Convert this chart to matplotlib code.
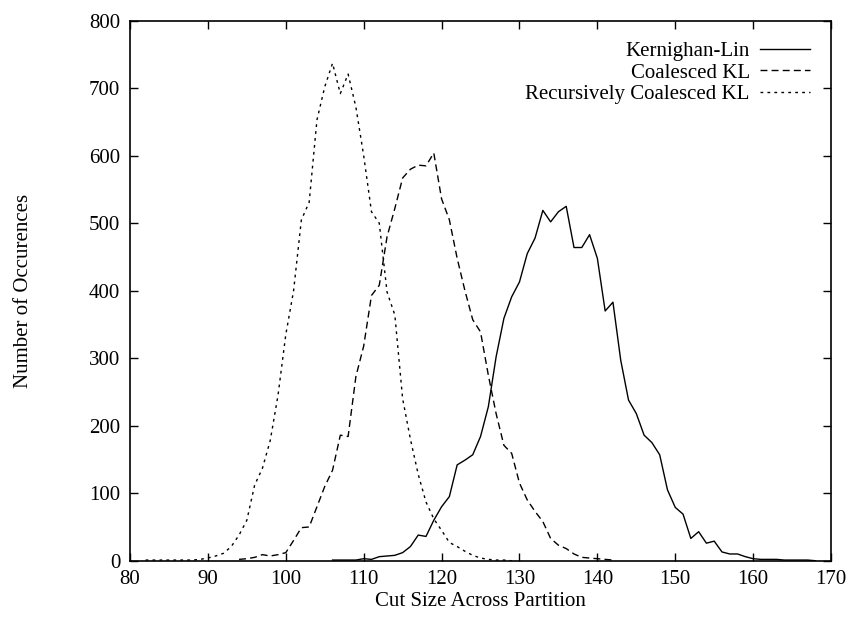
import numpy as np
import matplotlib.pyplot as plt

plt.rcParams['font.family'] = ['Liberation Serif', 'DejaVu Serif']

# Kernighan-Lin
kl_x = list(range(106, 169))
kl_y = [1, 1, 1, 1, 3, 2, 6, 7, 8, 12, 21, 38, 36, 60, 80, 95, 142, 149, 157, 184,
        228, 302, 359, 391, 413, 455, 478, 519, 502, 517, 525, 464, 464, 483, 448,
        370, 383, 297, 238, 218, 186, 175, 157, 105, 79, 69, 33, 43, 26, 29, 13, 10,
        10, 6, 3, 2, 2, 2, 1, 1, 1, 1, 0]

# Coalesced KL
ckl_x = list(range(94, 143))
ckl_y = [2, 3, 5, 9, 7, 9, 12, 30, 49, 50, 80, 110, 134, 186, 184, 273, 318, 393,
         408, 480, 522, 567, 580, 586, 585, 604, 536, 505, 448, 400, 357, 339, 275,
         218, 171, 159, 115, 90, 73, 58, 33, 23, 18, 10, 5, 4, 3, 2, 1]

# Recursively Coalesced KL
rckl_x = list(range(82, 130))
rckl_y = [1, 1, 1, 1, 1, 1, 1, 2, 4, 7, 11, 21, 38, 60, 112, 137, 178, 245, 335,
          400, 505, 531, 653, 702, 737, 692, 721, 672, 600, 517, 500, 398, 364, 240,
          180, 128, 87, 62, 45, 27, 21, 14, 8, 4, 2, 1, 1, 0]

fig = plt.figure(figsize=(8.52, 6.2), dpi=100)
ax = fig.add_axes([0.1526, 0.0956, 0.8228, 0.871])

ax.plot(kl_x, kl_y, color='black', lw=1.0, ls='-', label='Kernighan-Lin')
ax.plot(ckl_x, ckl_y, color='black', lw=1.0, ls=(0, (5, 3)), label='Coalesced KL')
ax.plot(rckl_x, rckl_y, color='black', lw=1.0, ls=(0, (2, 3)),
        label='Recursively Coalesced KL')

ax.set_xlim(80, 170)
ax.set_ylim(0, 800)
ax.set_xticks(np.arange(80, 171, 10))
ax.set_yticks(np.arange(0, 801, 100))
ax.tick_params(direction='in', length=6, width=1, top=True, right=True,
               labelsize=15, pad=7, colors='black')
for s in ax.spines.values():
    s.set_linewidth(1.2)
    s.set_color('black')

ax.set_xlabel('Cut Size Across Partition', fontsize=15, labelpad=2)
ax.set_ylabel('Number of Occurences', fontsize=15, labelpad=40)

ax.legend(loc='upper right', frameon=False, markerfirst=False, fontsize=15,
          handlelength=2.4, handletextpad=0.5, labelspacing=0.1,
          borderaxespad=0.6)

plt.savefig('out.png', dpi=100)
